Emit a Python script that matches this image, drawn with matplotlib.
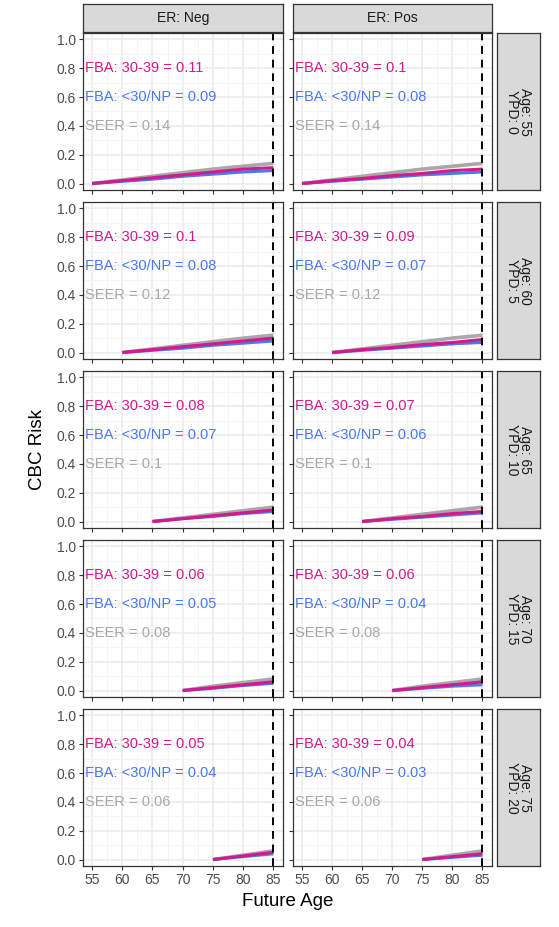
import matplotlib.pyplot as plt

cols = ['ER: Neg', 'ER: Pos']
rows = ['Age: 55\nYPD: 0', 'Age: 60\nYPD: 5', 'Age: 65\nYPD: 10', 'Age: 70\nYPD: 15', 'Age: 75\nYPD: 20']
start_ages = [55, 60, 65, 70, 75]

# risk at 5-year steps from start age to 85, [row][col]
fba30 = [
    [[0, 0.02, 0.04, 0.06, 0.08, 0.10, 0.11], [0, 0.02, 0.035, 0.055, 0.07, 0.09, 0.10]],
    [[0, 0.02, 0.04, 0.06, 0.08, 0.10], [0, 0.02, 0.035, 0.055, 0.07, 0.09]],
    [[0, 0.02, 0.04, 0.06, 0.08], [0, 0.02, 0.035, 0.055, 0.07]],
    [[0, 0.02, 0.04, 0.06], [0, 0.02, 0.04, 0.06]],
    [[0, 0.025, 0.05], [0, 0.02, 0.04]],
]
fba_np = [
    [[0, 0.015, 0.03, 0.05, 0.065, 0.08, 0.09], [0, 0.015, 0.03, 0.045, 0.06, 0.07, 0.08]],
    [[0, 0.015, 0.03, 0.05, 0.065, 0.08], [0, 0.015, 0.03, 0.045, 0.06, 0.07]],
    [[0, 0.02, 0.035, 0.055, 0.07], [0, 0.015, 0.03, 0.045, 0.06]],
    [[0, 0.015, 0.035, 0.05], [0, 0.015, 0.03, 0.04]],
    [[0, 0.02, 0.04], [0, 0.015, 0.03]],
]
seer = [
    [[0, 0.025, 0.05, 0.075, 0.10, 0.12, 0.14], [0, 0.025, 0.05, 0.075, 0.10, 0.12, 0.14]],
    [[0, 0.025, 0.05, 0.075, 0.10, 0.12], [0, 0.025, 0.05, 0.075, 0.10, 0.12]],
    [[0, 0.025, 0.05, 0.075, 0.10], [0, 0.025, 0.05, 0.075, 0.10]],
    [[0, 0.03, 0.055, 0.08], [0, 0.03, 0.055, 0.08]],
    [[0, 0.03, 0.06], [0, 0.03, 0.06]],
]
lab30 = [['0.11', '0.1'], ['0.1', '0.09'], ['0.08', '0.07'], ['0.06', '0.06'], ['0.05', '0.04']]
labnp = [['0.09', '0.08'], ['0.08', '0.07'], ['0.07', '0.06'], ['0.05', '0.04'], ['0.04', '0.03']]
labseer = [['0.14', '0.14'], ['0.12', '0.12'], ['0.1', '0.1'], ['0.08', '0.08'], ['0.06', '0.06']]

PINK = '#D4198A'
BLUE = '#4A78EE'
GREY = '#A8A8A8'

plt.rcParams['font.family'] = ['Liberation Sans', 'DejaVu Sans']
fig = plt.figure(figsize=(5.59, 9.27), dpi=100)
W, H = 559, 927
px = [(83, 283), (293, 492)]
py = [(33, 190), (202, 359), (371, 528), (540, 697), (709, 866)]

for i in range(5):
    for j in range(2):
        x0, x1 = px[j]
        y0, y1 = py[i]
        ax = fig.add_axes([x0 / W, 1 - y1 / H, (x1 - x0) / W, (y1 - y0) / H])
        ax.set_xlim(53.5, 86.6)
        ax.set_ylim(-0.045, 1.045)
        ax.set_xticks(range(55, 90, 5))
        ax.set_xticks(range(55, 90, 5)[:-1], minor=False)
        ax.set_xticks([55, 60, 65, 70, 75, 80, 85])
        ax.set_xticks([57.5, 62.5, 67.5, 72.5, 77.5, 82.5], minor=True)
        ax.set_yticks([0, 0.2, 0.4, 0.6, 0.8, 1.0])
        ax.set_yticks([0.1, 0.3, 0.5, 0.7, 0.9], minor=True)
        ax.grid(True, which='major', color='#EBEBEB', lw=1.1)
        ax.grid(True, which='minor', color='#F4F4F4', lw=0.6)
        ax.set_axisbelow(True)
        for s in ax.spines.values():
            s.set_color('#333333')
            s.set_linewidth(0.9)
        ax.tick_params(which='minor', length=0)
        ax.tick_params(which='major', length=3, color='#333333', labelsize=10, labelcolor='#4D4D4D', pad=2)
        if j == 1:
            ax.set_yticklabels([])
        else:
            ax.set_yticklabels(['0.0', '0.2', '0.4', '0.6', '0.8', '1.0'])
        if i < 4:
            ax.set_xticklabels([])
        ages = list(range(start_ages[i], 86, 5))
        ax.plot(ages, seer[i][j], color=GREY, lw=2.6, solid_capstyle='butt')
        ax.plot(ages, fba_np[i][j], color=BLUE, lw=2.2, solid_capstyle='butt')
        ax.plot(ages, fba30[i][j], color=PINK, lw=2.2, solid_capstyle='butt')
        ax.axvline(85, color='black', ls=(0, (4, 3)), lw=1.4)
        ax.text(53.8, 0.8, 'FBA: 30-39 = ' + lab30[i][j], color=PINK, fontsize=10.5, va='center')
        ax.text(53.8, 0.6, 'FBA: <30/NP = ' + labnp[i][j], color=BLUE, fontsize=10.5, va='center')
        ax.text(53.8, 0.4, 'SEER = ' + labseer[i][j], color=GREY, fontsize=10.5, va='center')

    # right strip
    sx = fig.add_axes([497 / W, 1 - py[i][1] / H, 43 / W, (py[i][1] - py[i][0]) / H])
    sx.set_facecolor('#D9D9D9')
    sx.set_xticks([]); sx.set_yticks([])
    for s in sx.spines.values():
        s.set_color('#333333'); s.set_linewidth(0.9)
    sx.text(0.5, 0.5, rows[i], rotation=-90, ha='center', va='center', fontsize=10,
            color='#1A1A1A', transform=sx.transAxes, linespacing=0.95)

for j in range(2):
    x0, x1 = px[j]
    tx = fig.add_axes([x0 / W, 1 - 32 / H, (x1 - x0) / W, 28 / H])
    tx.set_facecolor('#D9D9D9')
    tx.set_xticks([]); tx.set_yticks([])
    for s in tx.spines.values():
        s.set_color('#333333'); s.set_linewidth(0.9)
    tx.text(0.5, 0.5, cols[j], ha='center', va='center', fontsize=10, color='#1A1A1A',
            transform=tx.transAxes)

fig.text(288 / W, 1 - 902 / H, 'Future Age', ha='center', va='center', fontsize=13.5)
fig.text(37 / W, 1 - 450 / H, 'CBC Risk', ha='center', va='center', fontsize=13.5, rotation=90)

fig.savefig('out.png', dpi=100)
